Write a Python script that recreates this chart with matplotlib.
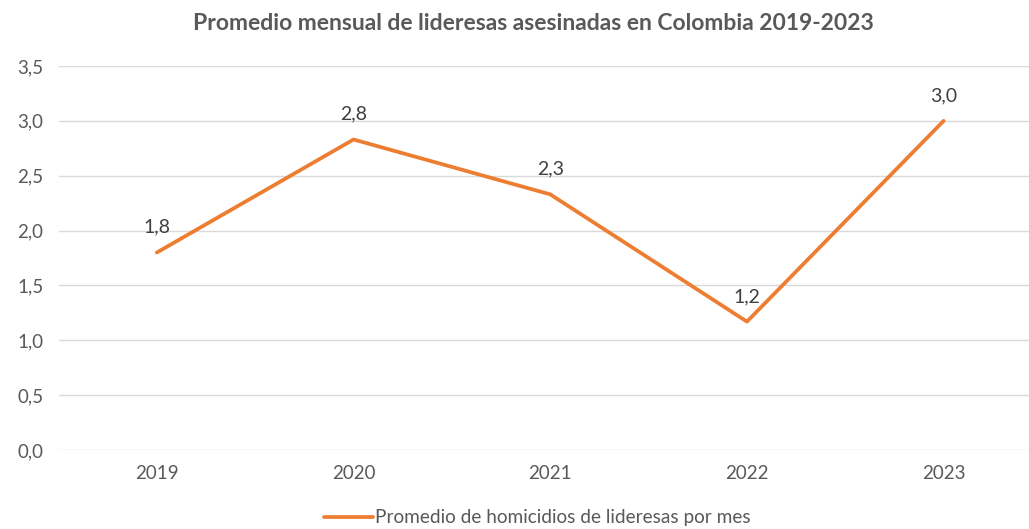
import matplotlib.pyplot as plt

# datos
years = ["2019", "2020", "2021", "2022", "2023"]
promedio = [1.80, 2.83, 2.33, 1.17, 3.00]
yticks = [0.0, 0.5, 1.0, 1.5, 2.0, 2.5, 3.0, 3.5]

plt.rcParams['font.family'] = ['Lato', 'DejaVu Sans']

W, H = 1029, 529
fig = plt.figure(figsize=(W / 100, H / 100), dpi=100)
# los ejes se salen por la derecha, como en la imagen original (recortada)
ax = fig.add_axes([58.5 / W, (H - 450) / H, (1042 - 58.5) / W, 384 / H])

x = list(range(len(years)))
ax.plot(x, promedio, color='#ed7d31', linewidth=2.7, solid_capstyle='round',
        label='Promedio de homicidios de lideresas por mes', zorder=3)

for xi, v in zip(x, promedio):
    ax.annotate(f"{v:.1f}".replace('.', ','), (xi, v), xytext=(0, 12),
                textcoords='offset points', ha='center', va='bottom',
                fontsize=14, color='#404040')

ax.set_xlim(-0.5, len(years) - 0.5)
ax.set_ylim(0, 3.5)
ax.set_yticks(yticks)
ax.set_yticklabels([f"{t:.1f}".replace('.', ',') for t in yticks])
ax.set_xticks(x)
ax.set_xticklabels(years)
ax.tick_params(axis='both', length=0, labelsize=13.5, labelcolor='#595959')
ax.tick_params(axis='y', pad=11)
ax.tick_params(axis='x', pad=11)

ax.grid(axis='y', color='#d9d9d9', linewidth=1)
ax.set_axisbelow(True)
for s in ax.spines.values():
    s.set_visible(False)

fig.text(533 / W, 1 - 24 / H, "Promedio mensual de lideresas asesinadas en Colombia 2019-2023",
         ha='center', va='center', fontsize=16.5, fontweight='bold', color='#595959')

fig.legend(loc='center', bbox_to_anchor=(537 / W, 1 - 518 / H), frameon=False,
           fontsize=13.7, labelcolor='#595959', handlelength=2.6, handletextpad=0.1)

fig.savefig('out.png', dpi=100)
